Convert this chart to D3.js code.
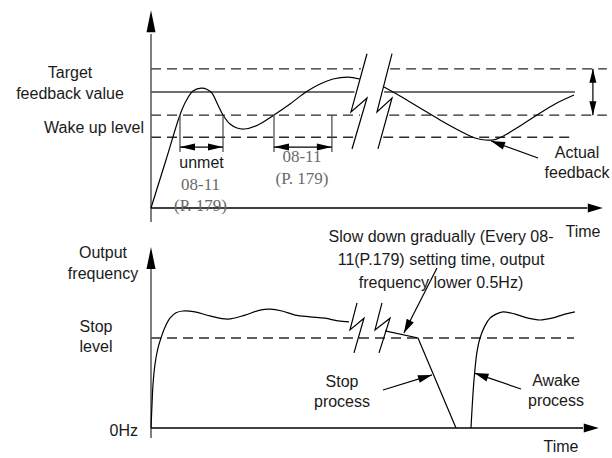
<!DOCTYPE html>
<html>
<head>
<meta charset="utf-8">
<script src="https://cdn.jsdelivr.net/npm/d3@7/dist/d3.min.js"></script>
<style>
  html, body { margin: 0; padding: 0; background: #fff; }
  svg { display: block; }
  text { font-family: "Liberation Sans", Arial, sans-serif; font-size: 16px; fill: #1a1a1a; }
  .serif { font-family: "Liberation Serif", "DejaVu Serif", serif; font-size: 17px; fill: #6a6a6a; }
</style>
</head>
<body>
<svg id="chart" width="612" height="458"></svg>
<script>
// ---------------- DATA ----------------
// Top panel: feedback value vs time (time 0-100, feedback units: target = 100)
const fbTime1 = [0, 3.33, 6.44, 7.78, 9.33, 11.33, 13.33, 14.67, 16, 17.56, 19.11, 20.67, 23.78, 27.33, 30.89, 34.44, 37.56, 40.44, 43.78, 46.44];
const fbValue1 = [0, 41.4, 80.2, 92.2, 100.9, 103.4, 100, 90.5, 80.2, 72.4, 69, 68.1, 71.6, 80.2, 89.7, 100, 106.9, 111.2, 112.9, 111.2];
const fbTime2 = [51.78, 55.33, 59.78, 64.22, 68.67, 72, 74.2, 76.4, 78.7, 82, 85.8, 89.8, 94];
const fbValue2 = [104.3, 96.6, 86.2, 75.9, 66.4, 60.3, 58.6, 59, 62.9, 70.7, 80.2, 89.7, 97.4];

// Top panel reference levels
const levelNames = ["upper", "target", "wake", "lower"];
const levelValues = [120, 100, 80, 61];
const levelEnds = [101.3, 94.2, 101.3, 94.2];

// Top panel "08-11" timing intervals
const intervalStart = [6.44, 27.33];
const intervalEnd = [16, 40.2];
const intervalLabels = [["unmet", "08-11", "(P. 179)"], ["08-11", "(P. 179)"]];

// Break marks (zigzag) – time offsets and values
const topBreakTime = [[48, 44.44, 48, 44.67], [53.56, 50.22, 53.56, 50.44]];
const topBreakValue = [133, 82.8, 94.8, 50.9];
const botBreakTime = [[45.78, 44.22, 47.33, 45.11], [51.33, 49.78, 53.11, 50.67]];
const botBreakValue = [27.8, 21.8, 24.4, 16.7];

// Bottom panel: output frequency vs time (stop level = 20)
const ofTime1 = [0, 0.22, 0.44, 0.89, 1.56, 2.22, 3.11, 4.22, 5.56, 7.11, 9.78, 13.11, 17.11, 20.89, 24.22, 26.44, 29.11, 32, 35.33, 38.67, 41.56, 44];
const ofValue1 = [0, 5.1, 9.6, 14.2, 17.8, 20, 22.4, 24.4, 25.6, 26, 25.8, 24.9, 24.2, 25.1, 26.2, 26.4, 26, 25.1, 24.7, 24.4, 23.8, 23.6];
const ofTime2 = [52, 59.33, 67.78];
const ofValue2 = [21.6, 20, 0];
const ofTime3 = [71.11, 71.33, 71.78, 72.44, 73.11, 74.2, 75.33, 76.67, 78.2, 80.9, 83.8, 86.4, 89.1, 92, 94.2];
const ofValue3 = [0, 4, 10.7, 16.9, 20, 22.7, 24.4, 25.3, 25.8, 25.3, 24.4, 24, 24.4, 25.3, 25.8];
const stopLevel = 20;
const stopLevelEnd = 94;

// Text labels
const topAxisLabels = ["Target", "feedback value", "Wake up level"];
const botAxisLabels = ["Output", "frequency", "Stop", "level", "0Hz"];
const actualLabel = ["Actual", "feedback"];
const slowLabel = ["Slow down gradually (Every 08-", "11(P.179) setting time, output", "frequency lower 0.5Hz)"];
const stopLabel = ["Stop", "process"];
const awakeLabel = ["Awake", "process"];
const timeLabel = "Time";

// ---------------- SCALES ----------------
const svg = d3.select("#chart");
const x = d3.scaleLinear().domain([0, 100]).range([151, 601]);
const yTop = d3.scaleLinear().domain([0, 100]).range([208, 92]);
const yBot = d3.scaleLinear().domain([0, 20]).range([428, 338]);

const curve = d3.curveCatmullRom.alpha(0.5);

function arrowHead(g, x1, y1, x2, y2, len, hw) {
  const dx = x2 - x1, dy = y2 - y1, L = Math.hypot(dx, dy);
  const ux = dx / L, uy = dy / L;
  const bx = x2 - ux * len, by = y2 - uy * len;
  g.append("path")
    .attr("d", `M${x2},${y2}L${bx - uy * hw},${by + ux * hw}L${bx + uy * hw},${by - ux * hw}Z`)
    .attr("fill", "#000");
}
function arrow(g, x1, y1, x2, y2, len, hw, width) {
  g.append("line").attr("x1", x1).attr("y1", y1).attr("x2", x2).attr("y2", y2)
    .attr("stroke", "#000").attr("stroke-width", width || 1.2);
  arrowHead(g, x1, y1, x2, y2, len, hw);
}
function zigX(ts, vs, v) {
  for (const i of [0, 2]) {
    const a = vs[i], b = vs[i + 1];
    if ((v <= a && v >= b) || (v >= a && v <= b)) {
      return x(ts[i] + (ts[i + 1] - ts[i]) * (v - a) / (b - a));
    }
  }
  return x(ts[1]);
}

// ---------------- TOP PANEL ----------------
const topG = svg.append("g");

levelValues.forEach((v, i) => {
  const isTarget = levelNames[i] === "target";
  const segs = [[x(0), zigX(topBreakTime[0], topBreakValue, v) - 2],
                [zigX(topBreakTime[1], topBreakValue, v) + 2, x(levelEnds[i])]];
  segs.forEach(s => {
    topG.append("line")
      .attr("x1", s[0]).attr("x2", s[1])
      .attr("y1", yTop(v)).attr("y2", yTop(v))
      .attr("stroke", isTarget ? "#707070" : "#2a2a2a")
      .attr("stroke-width", isTarget ? 2 : 1.3)
      .attr("stroke-dasharray", isTarget ? null : "10,6");
  });
});

topG.append("line").attr("x1", x(0)).attr("x2", x(0)).attr("y1", yTop(-12)).attr("y2", yTop(150))
  .attr("stroke", "#555").attr("stroke-width", 1.5);
arrowHead(topG, x(0), yTop(0), x(0), yTop(170.5), 22, 4.5);
topG.append("line").attr("x1", x(0)).attr("x2", x(97)).attr("y1", yTop(0)).attr("y2", yTop(0))
  .attr("stroke", "#000").attr("stroke-width", 1.5);
arrowHead(topG, x(0), yTop(0), x(100.4), yTop(0), 15, 4.5);

const lineTop = d3.line().x(d => x(d[0])).y(d => yTop(d[1])).curve(curve);
[[fbTime1, fbValue1], [fbTime2, fbValue2]].forEach(([ts, vs]) => {
  topG.append("path").datum(d3.zip(ts, vs)).attr("d", lineTop)
    .attr("fill", "none").attr("stroke", "#000").attr("stroke-width", 1.2);
});

const lineLin = (ys) => d3.line().x(d => x(d[0])).y(d => ys(d[1]));
topBreakTime.forEach(ts => {
  topG.append("path").datum(d3.zip(ts, topBreakValue)).attr("d", lineLin(yTop))
    .attr("fill", "none").attr("stroke", "#000").attr("stroke-width", 1.2);
});

intervalStart.forEach((t0, i) => {
  const t1 = intervalEnd[i];
  [t0, t1].forEach(t => {
    topG.append("line").attr("x1", x(t)).attr("x2", x(t))
      .attr("y1", yTop(levelValues[2])).attr("y2", yTop(48.3))
      .attr("stroke", "#444").attr("stroke-width", 1.2);
  });
  const ya = yTop(52.5);
  topG.append("line").attr("x1", x(t0)).attr("x2", x(t1)).attr("y1", ya).attr("y2", ya)
    .attr("stroke", "#000").attr("stroke-width", 1.2);
  arrowHead(topG, x(t1), ya, x(t0), ya, 15, 3.5);
  arrowHead(topG, x(t0), ya, x(t1), ya, 15, 3.5);
  const cx = (x(t0) + x(t1)) / 2;
  const labs = intervalLabels[i];
  const base = labs.length === 3 ? 168 : 162;
  labs.forEach((s, j) => {
    const isSans = s === "unmet";
    topG.append("text").attr("x", isSans ? cx : cx - 1).attr("y", base + j * 21.5)
      .attr("text-anchor", "middle")
      .attr("class", isSans ? null : "serif")
      .text(s);
  });
});

{
  const xa = x(98.2);
  topG.append("line").attr("x1", xa).attr("x2", xa).attr("y1", yTop(levelValues[0])).attr("y2", yTop(levelValues[2]))
    .attr("stroke", "#000").attr("stroke-width", 1.2);
  arrowHead(topG, xa, yTop(levelValues[2]), xa, yTop(levelValues[0]), 14, 3.5);
  arrowHead(topG, xa, yTop(levelValues[0]), xa, yTop(levelValues[2]), 14, 3.5);
}

arrow(topG, x(86), yTop(43.1), x(75.56), yTop(57.8), 14, 4);

topG.append("text").attr("x", 70).attr("y", 78).attr("text-anchor", "middle").text(topAxisLabels[0]);
topG.append("text").attr("x", 70).attr("y", 99).attr("text-anchor", "middle").text(topAxisLabels[1]);
topG.append("text").attr("x", 144).attr("y", 133).attr("text-anchor", "end").text(topAxisLabels[2]);
actualLabel.forEach((s, j) => {
  topG.append("text").attr("x", 577).attr("y", 158 + j * 20).attr("text-anchor", "middle").text(s);
});
topG.append("text").attr("x", 583).attr("y", 237).attr("text-anchor", "middle").text(timeLabel);

// ---------------- BOTTOM PANEL ----------------
const botG = svg.append("g");

botG.append("line").attr("x1", x(0)).attr("x2", x(stopLevelEnd)).attr("y1", yBot(stopLevel)).attr("y2", yBot(stopLevel))
  .attr("stroke", "#2a2a2a").attr("stroke-width", 1.3).attr("stroke-dasharray", "10,6");

botG.append("line").attr("x1", x(0)).attr("x2", x(0)).attr("y1", yBot(-2.2)).attr("y2", yBot(36))
  .attr("stroke", "#555").attr("stroke-width", 1.5);
arrowHead(botG, x(0), yBot(0), x(0), yBot(40.2), 22, 4.5);
botG.append("line").attr("x1", x(0)).attr("x2", x(96)).attr("y1", yBot(0)).attr("y2", yBot(0))
  .attr("stroke", "#000").attr("stroke-width", 1.5);
arrowHead(botG, x(0), yBot(0), x(99.5), yBot(0), 15, 4.5);

const lineBot = d3.line().x(d => x(d[0])).y(d => yBot(d[1])).curve(curve);
[[ofTime1, ofValue1], [ofTime3, ofValue3]].forEach(([ts, vs]) => {
  botG.append("path").datum(d3.zip(ts, vs)).attr("d", lineBot)
    .attr("fill", "none").attr("stroke", "#000").attr("stroke-width", 1.2);
});
botG.append("path").datum(d3.zip(ofTime2, ofValue2)).attr("d", lineLin(yBot))
  .attr("fill", "none").attr("stroke", "#000").attr("stroke-width", 1.2);

botBreakTime.forEach(ts => {
  botG.append("path").datum(d3.zip(ts, botBreakValue)).attr("d", lineLin(yBot))
    .attr("fill", "none").attr("stroke", "#000").attr("stroke-width", 1.2);
});

arrow(botG, 437, 268, x(56.2), yBot(21.1), 14, 4);
arrow(botG, 383, 390, x(62.44), yBot(11.8), 14, 4);
arrow(botG, 521, 389, x(71.89), yBot(12.2), 14, 4);

botG.append("text").attr("x", 103).attr("y", 258).attr("text-anchor", "middle").text(botAxisLabels[0]);
botG.append("text").attr("x", 103).attr("y", 279).attr("text-anchor", "middle").text(botAxisLabels[1]);
botG.append("text").attr("x", 96).attr("y", 332).attr("text-anchor", "middle").text(botAxisLabels[2]);
botG.append("text").attr("x", 96).attr("y", 352).attr("text-anchor", "middle").text(botAxisLabels[3]);
botG.append("text").attr("x", 138).attr("y", 436).attr("text-anchor", "end").text(botAxisLabels[4]);
slowLabel.forEach((s, j) => {
  botG.append("text").attr("x", 441).attr("y", 242 + j * 23).attr("text-anchor", "middle").text(s);
});
stopLabel.forEach((s, j) => {
  botG.append("text").attr("x", 342).attr("y", 387 + j * 20).attr("text-anchor", "middle").text(s);
});
awakeLabel.forEach((s, j) => {
  botG.append("text").attr("x", 556).attr("y", 386 + j * 20).attr("text-anchor", "middle").text(s);
});
botG.append("text").attr("x", 561).attr("y", 452).attr("text-anchor", "middle").text(timeLabel);
</script>
</body>
</html>
